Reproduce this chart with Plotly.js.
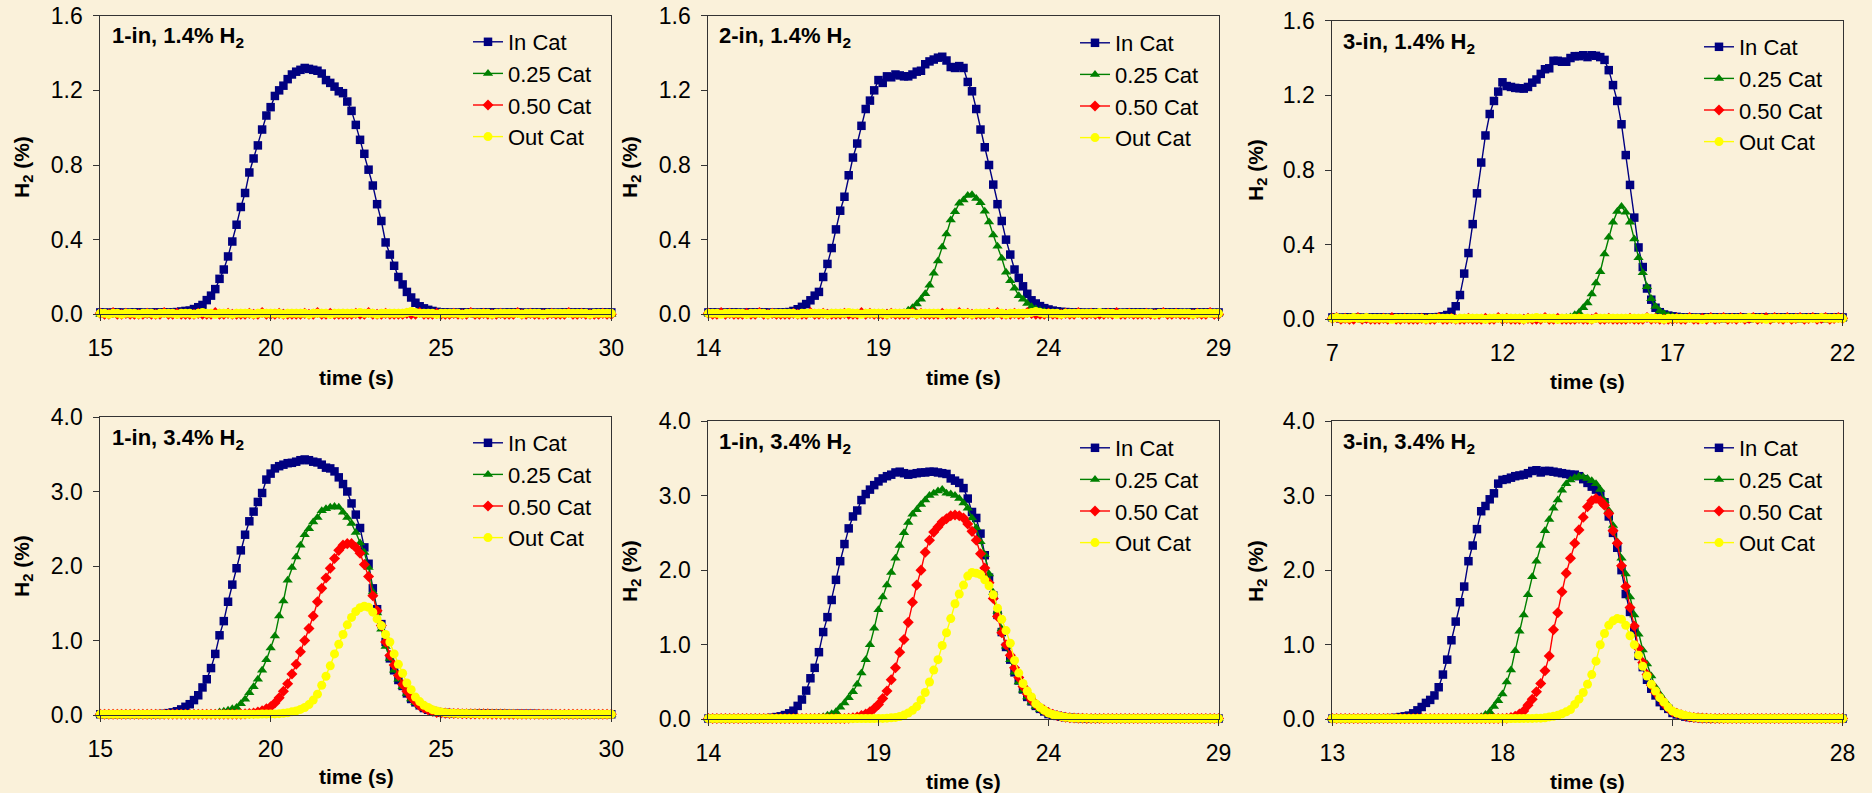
<!DOCTYPE html>
<html>
<head>
<meta charset="utf-8">
<script src="https://cdn.plot.ly/plotly-3.0.1.min.js"></script>
<style>
  html, body { margin: 0; padding: 0; background: #FAF1DA; }
  #chart { width: 1872px; height: 793px; }
</style>
</head>
<body>
<div id="chart"></div>
<script>
// H2 concentration traces sampled every 0.125 s, six catalyst runs.
const STEP = 0.125;
const seriesNames = ['In Cat', '0.25 Cat', '0.50 Cat', 'Out Cat'];
const panelTitles = ['1-in, 1.4% H<sub>2</sub>', '2-in, 1.4% H<sub>2</sub>', '3-in, 1.4% H<sub>2</sub>',
                     '1-in, 3.4% H<sub>2</sub>', '1-in, 3.4% H<sub>2</sub>', '3-in, 3.4% H<sub>2</sub>'];
const startTimes = [15, 14, 7, 15, 14, 13];
const xRanges = [[15, 30], [14, 29], [7, 22], [15, 30], [14, 29], [13, 28]];
const yRanges = [[0, 1.6], [0, 1.6], [0, 1.6], [0, 4], [0, 4], [0, 4]];
const yTickSteps = [0.4, 0.4, 0.4, 1, 1, 1];
const xTitle = 'time (s)';
const yTitle = 'H<sub>2</sub> (%)';

// ---- 1-in, 1.4% H2 (t from 15 s)
const p1In = [
0.01,0.01,0.005,0.01,0.01,0.01,0.005,0.01,0.01,0.01,0.01,0.005,0.01,0.01,0.01,0.01,0.01,
0.01,0.012,0.015,0.018,0.02,0.028,0.038,
0.05,0.076,0.1,0.135,0.19,0.24,0.31,0.39,
0.48,0.575,0.65,0.76,0.835,0.905,0.99,1.065,
1.11,1.17,1.2,1.225,1.26,1.285,1.3,1.31,
1.32,1.315,1.31,1.305,1.29,1.255,1.24,1.22,
1.195,1.185,1.14,1.09,1.015,0.935,0.86,0.775,
0.69,0.59,0.5,0.385,0.32,0.26,0.2,0.16,
0.12,0.09,0.062,0.043,0.032,0.024,0.018,0.013,
0.01,0.01,0.01,0.005,0.01,0.01,0.01,0.01,0.005,0.01,
0.01,0.01,0.01,0.01,0.005,0.01,0.01,0.01,0.01,0.01,
0.005,0.01,0.01,0.01,0.01,0.01,0.01,0.005,0.01,0.01,
0.01,0.01,0.01,0.01,0.01,0.005,0.01,0.01,0.01,0.01,
0.01];
const p1Q25 = [
0,0,0.005,0,0,0,0,0.005,0,0, 0,0,0,0,0.005,0,0,0,0,0, 0,0.005,0,0,0,0,0,0,0.005,0,
0,0,0,0,0,0.005,0,0,0,0, 0,0,0,0.005,0,0,0,0,0,0, 0.005,0,0,0,0,0,0,0.005,0,0,
0,0,0,0,0.005,0,0,0,0,0, 0,0,0.005,0,0,0,0,0,0,0.005, 0,0,0,0,0,0,0.005,0,0,0,
0,0.005,0,0,0,0,0,0,0,0.005, 0,0,0,0,0.005,0,0,0,0,0, 0,0,0,0.005,0,0,0,0,0,0, 0];
const p1Q50 = [
0.005,0,0,0.01,0,0,0.005,0,0,0, 0,0.005,0,0,0,0.01,0,0,0.005,0, 0,0,0,0.005,0,0,0,0.01,0,0,
0.005,0,0,0,0,0.005,0,0,0.01,0, 0,0,0.005,0,0,0,0,0,0.005,0, 0,0.01,0,0,0.005,0,0,0,0,0,
0.005,0,0,0.01,0,0,0,0.005,0,0, 0,0,0.005,0,0,0.01,0,0,0,0.005, 0,0,0,0.005,0,0,0,0.01,0,0,
0.005,0,0,0,0.005,0,0,0,0.01,0, 0,0.005,0,0,0,0,0.005,0,0,0, 0.01,0,0,0.005,0,0,0,0,0.005,0, 0];
const p1Out = [
0.005,0.005,0,0.005,0.005,0,0.005,0.005,0.005,0, 0.005,0.005,0.005,0,0.005,0.005,0.005,0.005,0,0.005,
0.005,0.005,0,0.005,0.01,0.005,0.005,0,0.005,0.005, 0.005,0,0.005,0.005,0.005,0.005,0,0.005,0.005,0.005,
0.005,0.005,0.005,0,0.005,0.005,0.005,0.005,0.005,0, 0.005,0.005,0.005,0.005,0,0.005,0.005,0.005,0.005,0.005,
0.005,0.01,0.005,0.005,0.005,0,0.005,0.005,0.005,0.005, 0.005,0.005,0.01,0.015,0.01,0.005,0.005,0.005,0.005,0,
0.005,0.005,0.005,0.005,0.005,0,0.005,0.005,0.005,0.005, 0.005,0.005,0,0.005,0.005,0.005,0.005,0.005,0.005,0,
0.005,0.005,0.005,0.005,0,0.005,0.005,0.005,0.005,0.005, 0.005,0.005,0.005,0.005,0.005,0,0.005,0.005,0.005,0.005,
0.005];

// ---- 2-in, 1.4% H2 (t from 14 s)
const p2In = [
0.01,0.01,0.01,0.005,0.01,0.01,0.01,0.01,0.005,0.01, 0.01,0.01,0.01,0.01,0.01,0.005,0.01,0.01,0.01,0.012,
0.018,0.027,0.04,0.055,
0.075,0.1,0.12,0.2,0.27,0.355,0.455,0.555,
0.63,0.745,0.84,0.915,1.01,1.1,1.145,1.2,
1.255,1.24,1.275,1.27,1.285,1.28,1.275,1.275,
1.285,1.3,1.305,1.34,1.355,1.365,1.375,1.38,
1.36,1.325,1.32,1.33,1.32,1.245,1.195,1.1,
0.99,0.895,0.8,0.695,0.59,0.5,0.4,0.32,
0.24,0.195,0.15,0.11,0.075,0.058,0.044,0.033,
0.026,0.02,0.016,
0.013,0.012,0.01,0.01,0.01,0.01,0.005,0.01,0.01,0.01, 0.01,0.01,0.01,0.01,0.005,0.01,0.01,0.01,0.01,0.01,
0.01,0.005,0.01,0.01,0.01,0.01,0.01,0.01,0.01,0.005, 0.01,0.01,0.01,0.01,0.01,0.01,0.005,0.01];
const p2Q25 = [
0.005,0,0.005,0.005,0,0.005,0.005,0.005,0,0.005, 0.005,0.005,0,0.005,0.005,0.005,0.005,0,0.005,0.005,
0.005,0,0.005,0.005,0.005,0.005,0,0.005,0.005,0.005, 0.005,0.005,0,0.005,0.005,0.005,0.005,0.005,0,0.005,
0.005,0.005,0.005,0,0.005,0.005,
0.008,0.022,
0.035,0.055,0.08,0.11,0.155,0.22,0.285,0.36,
0.43,0.505,0.55,0.595,0.612,0.636,0.64,0.62,
0.598,0.552,0.495,0.425,0.365,0.3,0.225,0.18,
0.14,0.1,0.08,0.058,0.041,0.028,0.02,0.015,
0.01,0.008,0.005,0.005,0.005,0,0.005,0.005,0.005,0.005, 0.005,0.005,0,0.005,0.005,0.005,0.005,0.005,0.005,0,
0.005,0.005,0.005,0.005,0,0.005,0.005,0.005,0.005,0.005, 0.005,0,0.005,0.005,0.005,0.005,0.005,0,0.005,0.005,
0.005];
const p2Q50 = [
0.005,0,0,0.01,0,0.005,0,0,0,0.005, 0,0,0.01,0,0,0.005,0,0,0,0, 0.005,0,0,0,0.01,0,0,0.005,0,0,
0,0,0.005,0,0,0,0.01,0,0.005,0, 0,0,0,0.005,0,0,0,0,0.01,0, 0.005,0,0,0,0,0.005,0,0,0,0.01,
0,0.005,0,0,0,0,0.005,0,0.01,0, 0,0,0.005,0,0,0.01,0.005,0,0,0, 0.005,0,0,0,0.005,0,0,0.01,0,0,
0.005,0,0,0,0.005,0,0.01,0,0,0.005, 0,0,0,0.005,0,0,0,0.01,0,0, 0.005,0,0,0,0,0.005,0,0,0.01,0, 0];
const p2Out = [
0.005,0.005,0.005,0,0.005,0.005,0.005,0.005,0.005,0, 0.005,0.005,0.005,0.005,0,0.005,0.005,0.005,0.005,0.005,
0.005,0,0.005,0.005,0.005,0.005,0.005,0.005,0,0.005, 0.005,0.005,0.005,0.01,0.005,0.005,0,0.005,0.005,0.005,
0.005,0.005,0,0.005,0.005,0.005,0.005,0.005,0.005,0, 0.005,0.005,0.005,0.005,0.005,0,0.005,0.005,0.005,0.005,
0.005,0.005,0,0.005,0.005,0.005,0.005,0.005,0.005,0.005, 0,0.005,0.005,0.005,0.005,0.005,0.01,0.015,0.01,0.005,
0.005,0.005,0.005,0,0.005,0.005,0.005,0.005,0.005,0.005, 0.005,0.005,0.01,0.005,0.005,0.005,0,0.005,0.005,0.005,
0.005,0.005,0.005,0.005,0.005,0,0.005,0.005,0.005,0.005, 0.005,0.005,0.005,0.005,0,0.005,0.005,0.005,0.005,0.005,
0.005];

// ---- 3-in, 1.4% H2 (t from 7 s)
const p3In = [
0.01,0.01,0.005,0.01,0.01,0.01,0.01,0.005,0.01,0.01, 0.01,0.01,0.01,0.005,0.01,0.01,0.01,0.01,0.01,0.005,
0.01,0.01,0.01,0.01,0.01,
0.012,0.016,0.023,0.04,0.07,0.13,0.245,
0.355,0.51,0.675,0.84,0.985,1.1,1.17,1.22,
1.27,1.25,1.245,1.24,1.238,1.236,1.245,1.268,
1.285,1.315,1.34,1.345,1.385,1.385,1.38,1.38,
1.4,1.41,1.41,1.415,1.405,1.415,1.412,1.405,
1.39,1.335,1.255,1.17,1.045,0.88,0.72,0.545,
0.385,0.28,0.165,0.105,0.062,0.038,0.026,0.02,
0.016,0.013,0.011,
0.01,0.01,0.01,0.005,0.01,0.01,0.01,0.01,0.01,0.005, 0.01,0.01,0.01,0.01,0.01,0.005,0.01,0.01,0.01,0.01,
0.005,0.01,0.01,0.01,0.01,0.01,0.01,0.005,0.01,0.01, 0.01,0.01,0.01,0.005,0.01,0.01,0.01,0.01];
const p3Q25 = [
0.005,0,0.005,0.005,0.005,0,0.005,0.005,0.005,0.005, 0,0.005,0.005,0.005,0.005,0.005,0,0.005,0.005,0.005,
0.005,0.005,0.005,0,0.005,0.005,0.005,0.005,0.005,0, 0.005,0.005,0.005,0.005,0,0.005,0.005,0.005,0.005,0.005,
0.005,0,0.005,0.005,0.005,0.005,0.005,0.005,0,0.005, 0.005,0.005,0.005,0.005,0.005,0.008,
0.012,0.024,0.036,0.062,0.088,0.135,0.195,0.255,
0.35,0.44,0.52,0.578,0.604,0.573,0.52,0.43,
0.33,0.25,0.175,0.11,0.068,0.045,0.03,0.021,
0.015,
0.01,0.008,0.005,0.005,0.005,0,0.005,0.005,0.005,0.005, 0.005,0.005,0,0.005,0.005,0.005,0.005,0.005,0.005,0,
0.005,0.005,0.005,0.005,0,0.005,0.005,0.005,0.005,0.005, 0.005,0.005,0.005,0,0.005,0.005,0.005,0.005,0.005,0.005];
const p3Q50 = [
0.005,0.01,0,0.005,0,0,0.01,0,0.005,0, 0,0,0.005,0,0.01,0,0,0.005,0,0, 0,0.005,0,0,0,0.01,0,0,0.005,0,
0,0,0.005,0,0,0,0.005,0,0,0.01, 0,0.005,0,0,0,0,0.005,0,0,0, 0.01,0,0,0.005,0,0,0,0,0.005,0,
0,0,0.01,0,0,0.005,0,0,0,0, 0.005,0,0,0,0.01,0,0.005,0,0,0, 0,0.005,0,0,0.01,0,0,0.005,0,0.01,
0,0.005,0.01,0,0.005,0,0.01,0,0.005,0.01, 0,0.005,0.01,0,0.01,0.005,0,0.01,0,0.005, 0.01,0,0.005,0.01,0,0.005,0.01,0,0.005,0.01, 0.005];
const p3Out = [
0.005,0.01,0.005,0.005,0.005,0.01,0.005,0.005,0.01,0.005, 0.005,0.005,0.005,0.005,0,0.005,0.005,0.005,0.005,0.005,
0.005,0.005,0,0.005,0.005,0.005,0.005,0.005,0.005,0, 0.005,0.005,0.005,0.005,0.005,0.005,0,0.005,0.005,0.005,
0.005,0.005,0.005,0.005,0.005,0,0.005,0.005,0.01,0.005, 0.005,0.005,0.005,0,0.005,0.005,0.005,0.005,0.005,0.005,
0.005,0,0.005,0.005,0.005,0.005,0.005,0.005,0.005,0.005, 0.005,0.005,0.005,0.005,0.01,0.005,0.005,0.005,0,0.005,
0.005,0.005,0.005,0.005,0.005,0.005,0.005,0,0.005,0.005, 0.005,0.005,0.005,0.005,0.005,0.005,0.005,0.005,0.01,0.005,
0.005,0.005,0,0.005,0.005,0.005,0.005,0.005,0.005,0.005, 0.005,0.005,0.005,0.005,0.005,0.01,0.005,0.005,0.005,0.005,
0.005];

// ---- 1-in, 3.4% H2 (t from 15 s)
const p4In = [
0.01,0.01,0.01,0.01,0.01,0.01,0.01,0.01,0.01,0.01, 0.01,0.01,0.01,0.01,0.012,0.015,
0.025,0.035,0.05,0.075,0.11,0.145,0.2,0.265,
0.37,0.48,0.63,0.82,1.07,1.26,1.52,1.75,
1.97,2.21,2.42,2.6,2.73,2.86,2.98,3.16,
3.24,3.31,3.34,3.36,3.38,3.385,3.4,3.42,
3.43,3.42,3.4,3.39,3.36,3.32,3.31,3.27,
3.19,3.1,3.0,2.84,2.69,2.51,2.25,2.03,
1.7,1.42,1.22,0.98,0.76,0.6,0.47,0.39,
0.29,0.215,0.17,0.13,0.093,0.07,0.053,0.04,
0.032,
0.028,0.025,0.022,0.02,0.02,0.02,0.02,0.02,0.02,0.02, 0.02,0.02,0.018,0.018,0.018,0.015,0.015,0.015,0.015,0.015,
0.015,0.015,0.012,0.012,0.012,0.012,0.01,0.01,0.01,0.01, 0.01,0.01,0.01,0.01,0.01,0.01,0.01,0.01,0.01,0.01];
const p4Q25 = [
0.01,0.01,0.01,0.01,0.01,0.01,0.01,0.01,0.01,0.01, 0.01,0.01,0.01,0.01,0.01,0.01,0.01,0.01,0.01,0.01,
0.01,0.01,0.01,0.01,0.01,0.012,0.015,
0.02,0.04,0.05,0.065,0.085,
0.1,0.15,0.21,0.3,0.38,0.48,0.6,0.74,
0.9,1.06,1.33,1.53,1.81,1.98,2.12,2.28,
2.42,2.5,2.59,2.65,2.74,2.77,2.79,2.8,
2.79,2.72,2.65,2.57,2.45,2.31,2.18,1.98,
1.65,1.37,1.15,0.92,0.76,0.6,0.48,0.38,
0.29,0.215,0.165,0.125,0.09,0.068,0.05,0.038,
0.03,
0.025,0.022,0.02,0.02,0.018,0.018,0.015,0.015,0.015,0.015, 0.012,0.012,0.012,0.012,0.01,0.01,0.01,0.01,0.01,0.01,
0.01,0.01,0.01,0.01,0.01,0.01,0.01,0.01,0.01,0.01, 0.01,0.01,0.01,0.01,0.01,0.01,0.01,0.01,0.01,0.01];
const p4Q50 = [
0.01,0.01,0.01,0.01,0.01,0.01,0.01,0.01,0.01,0.01, 0.01,0.01,0.01,0.01,0.01,0.01,0.01,0.01,0.01,0.01,
0.01,0.01,0.01,0.01,0.01,0.01,0.01,0.01,0.01,0.01, 0.01,0.01,0.01,0.012,0.015,0.02,
0.025,0.04,0.055,0.082,
0.11,0.16,0.23,0.32,0.42,0.55,0.68,0.85,
1.0,1.16,1.33,1.52,1.7,1.84,1.97,2.1,
2.21,2.28,2.3,2.3,2.25,2.17,2.02,1.86,
1.6,1.4,1.2,0.98,0.8,0.67,0.53,0.41,
0.32,0.24,0.18,0.125,0.095,0.067,0.05,0.035,
0.028,
0.025,0.022,0.02,0.02,0.018,0.018,0.015,0.015,0.015,0.015, 0.015,0.012,0.012,0.012,0.012,0.01,0.01,0.01,0.01,0.01,
0.01,0.01,0.01,0.01,0.01,0.01,0.01,0.01,0.01,0.01, 0.01,0.01,0.01,0.01,0.01,0.01,0.01,0.01,0.01,0.01];
const p4Out = [
0.01,0.01,0.01,0.01,0.01,0.01,0.01,0.01,0.01,0.01, 0.01,0.01,0.01,0.01,0.01,0.01,0.01,0.01,0.01,0.01,
0.01,0.01,0.01,0.01,0.01,0.01,0.01,0.01,0.01,0.01, 0.01,0.01,0.01,0.01,0.01,0.01,0.01,0.01,0.012,0.012,
0.015,0.015,0.018,0.022,
0.03,0.042,0.055,0.075,
0.1,0.14,0.2,0.28,0.4,0.52,0.66,0.82,
0.95,1.08,1.21,1.31,1.39,1.44,1.46,1.445,
1.38,1.29,1.2,1.08,0.98,0.82,0.68,0.56,
0.43,0.34,0.24,0.18,0.13,0.1,0.072,0.055,
0.04,0.03,
0.025,0.022,0.02,0.02,0.02,0.018,0.018,0.015,0.015,0.015, 0.015,0.015,0.012,0.012,0.012,0.012,0.01,0.01,0.01,0.01,
0.01,0.01,0.01,0.01,0.01,0.01,0.01,0.01,0.01,0.01, 0.01,0.01,0.01,0.01,0.01,0.01,0.01,0.01,0.01];

// ---- 1-in, 3.4% H2 (t from 14 s)
const p5In = [
0.01,0.01,0.01,0.01,0.01,0.01,0.01,0.01,0.01,0.01, 0.01,0.01,0.012,0.012,0.015,
0.02,
0.03,0.04,0.057,0.08,0.115,0.18,0.265,0.385,
0.55,0.69,0.9,1.17,1.37,1.6,1.87,2.12,
2.35,2.56,2.72,2.8,2.94,3.02,3.08,3.14,
3.19,3.23,3.26,3.28,3.31,3.32,3.3,3.28,
3.29,3.3,3.31,3.31,3.32,3.32,3.31,3.3,
3.29,3.23,3.2,3.17,3.1,2.96,2.78,2.7,
2.49,2.2,1.9,1.66,1.4,1.17,0.97,0.8,
0.63,0.52,0.4,0.3,0.24,0.18,0.14,0.105,
0.07,0.058,0.046,0.035,0.028,0.022,0.018,0.015,
0.015,0.012,0.012,0.012,0.01,0.01,0.01,0.01,0.01,0.01, 0.01,0.01,0.01,0.01,0.01,0.01,0.01,0.01,0.01,0.01,
0.01,0.01,0.01,0.01,0.01,0.01,0.01,0.01,0.01,0.01, 0.01,0.01,0.01];
const p5Q25 = [
0.01,0.01,0.01,0.01,0.01,0.01,0.01,0.01,0.01,0.01, 0.01,0.01,0.01,0.01,0.01,0.01,0.01,0.01,0.01,0.01,
0.01,0.01,0.01,0.012,0.015,0.018,
0.025,0.035,0.055,0.075,0.1,0.16,
0.22,0.29,0.37,0.47,0.62,0.8,1.0,1.22,
1.47,1.64,1.8,1.97,2.16,2.33,2.5,2.64,
2.75,2.81,2.88,2.94,3.0,3.03,3.06,3.08,
3.03,3.02,3.0,2.96,2.9,2.83,2.7,2.57,
2.38,2.21,1.95,1.7,1.45,1.21,0.98,0.8,
0.63,0.5,0.39,0.3,0.23,0.17,0.13,0.1,
0.07,0.05,0.04,0.03,0.022,0.017,0.014,0.012,
0.01,0.01,0.01,0.01,0.01,0.01,0.01,0.01,0.01,0.01, 0.01,0.01,0.01,0.01,0.01,0.01,0.01,0.01,0.01,0.01,
0.01,0.01,0.01,0.01,0.01,0.01,0.01,0.01,0.01,0.01, 0.01,0.01,0.01];
const p5Q50 = [
0.01,0.01,0.01,0.01,0.01,0.01,0.01,0.01,0.01,0.01, 0.01,0.01,0.01,0.01,0.01,0.01,0.01,0.01,0.01,0.01,
0.01,0.01,0.01,0.01,0.01,0.01,0.01,0.01,0.01,0.01, 0.01,0.012,0.012,0.015,
0.02,0.03,0.05,0.072,0.1,0.145,
0.2,0.28,0.38,0.53,0.69,0.9,1.07,1.3,
1.57,1.8,2.0,2.24,2.4,2.51,2.58,2.65,
2.69,2.73,2.74,2.73,2.7,2.62,2.52,2.4,
2.22,2.03,1.83,1.62,1.38,1.16,1.0,0.86,
0.69,0.56,0.44,0.34,0.26,0.2,0.155,0.12,
0.09,0.068,0.05,0.037,0.028,0.022,0.018,0.015,
0.015,0.012,0.012,0.01,0.01,0.01,0.01,0.01,0.01,0.01, 0.01,0.01,0.01,0.01,0.01,0.01,0.01,0.01,0.01,0.01,
0.01,0.01,0.01,0.01,0.01,0.01,0.01,0.01,0.01,0.01, 0.01,0.01,0.01];
const p5Out = [
0.01,0.01,0.01,0.01,0.01,0.01,0.01,0.01,0.01,0.01, 0.01,0.01,0.01,0.01,0.01,0.01,0.01,0.01,0.01,0.01,
0.01,0.01,0.01,0.01,0.01,0.01,0.01,0.01,0.01,0.01, 0.01,0.01,0.01,0.01,0.01,0.01,0.01,0.01,0.01,0.01,
0.012,0.012,
0.015,0.02,0.025,0.038,0.056,0.085,
0.12,0.17,0.26,0.36,0.5,0.66,0.8,0.99,
1.16,1.35,1.55,1.68,1.8,1.92,1.97,1.96,
1.94,1.87,1.79,1.67,1.49,1.34,1.19,1.02,
0.79,0.62,0.48,0.38,0.3,0.21,0.16,0.12,
0.085,0.065,0.05,0.037,0.028,0.022,0.018,0.015,
0.015,0.015,0.012,0.012,0.012,0.01,0.01,0.01,0.01,0.01, 0.01,0.01,0.01,0.01,0.01,0.01,0.01,0.01,0.01,0.01,
0.01,0.01,0.01,0.01,0.01,0.01,0.01,0.01,0.01,0.01, 0.01,0.01,0.01];

// ---- 3-in, 3.4% H2 (t from 13 s)
const p6In = [
0.01,0.01,0.01,0.01,0.01,0.01,0.01,0.01,0.01,0.01, 0.01,0.012,0.012,0.015,0.015,
0.02,
0.03,0.04,0.05,0.08,0.12,0.165,0.22,0.26,
0.32,0.43,0.6,0.8,1.06,1.31,1.57,1.78,
2.12,2.33,2.55,2.79,2.86,2.95,3.03,3.16,
3.21,3.22,3.24,3.26,3.27,3.28,3.3,3.33,
3.34,3.31,3.33,3.33,3.32,3.31,3.3,3.29,
3.28,3.28,3.26,3.22,3.17,3.12,3.08,3.02,
2.91,2.72,2.5,2.3,2.0,1.68,1.44,1.2,
0.85,0.7,0.53,0.41,0.32,0.23,0.18,0.14,
0.085,0.065,0.048,0.036,0.028,0.022,0.018,0.015,
0.015,0.012,0.012,0.01,0.01,0.01,0.01,0.01,0.01,0.01, 0.01,0.01,0.01,0.01,0.01,0.01,0.01,0.01,0.01,0.01,
0.01,0.01,0.01,0.01,0.01,0.01,0.01,0.01,0.01,0.01, 0.01,0.01,0.01];
const p6Q25 = [
0.01,0.01,0.01,0.01,0.01,0.01,0.01,0.01,0.01,0.01, 0.01,0.01,0.01,0.01,0.01,0.01,0.01,0.01,0.01,0.01,
0.01,0.01,0.01,0.01,0.01,0.01,0.01,0.01,0.01,0.01, 0.01,0.012,0.012,0.015,
0.02,0.035,0.065,0.1,0.17,0.25,
0.34,0.5,0.66,0.92,1.18,1.4,1.67,1.91,
2.12,2.33,2.53,2.68,2.83,2.94,3.07,3.16,
3.21,3.24,3.26,3.25,3.23,3.2,3.16,3.08,
2.93,2.8,2.6,2.38,2.16,1.95,1.64,1.4,
1.14,0.93,0.74,0.58,0.43,0.34,0.26,0.19,
0.11,0.09,0.067,0.05,0.036,0.028,0.022,0.018,
0.015,0.015,0.012,0.012,0.012,0.01,0.01,0.01,0.01,0.01, 0.01,0.01,0.01,0.01,0.01,0.01,0.01,0.01,0.01,0.01,
0.01,0.01,0.01,0.01,0.01,0.01,0.01,0.01,0.01,0.01, 0.01,0.01,0.01];
const p6Q50 = [
0.01,0.01,0.01,0.01,0.01,0.01,0.01,0.01,0.01,0.01, 0.01,0.01,0.01,0.01,0.01,0.01,0.01,0.01,0.01,0.01,
0.01,0.01,0.01,0.01,0.01,0.01,0.01,0.01,0.01,0.01, 0.01,0.01,0.01,0.01,0.01,0.01,0.01,0.01,0.01,0.012,
0.012,
0.015,0.025,0.04,0.07,0.11,0.19,0.27,
0.37,0.48,0.65,0.85,1.2,1.43,1.71,1.96,
2.16,2.36,2.54,2.71,2.85,2.93,2.96,2.93,
2.87,2.76,2.53,2.36,2.06,1.78,1.5,1.25,
0.95,0.76,0.6,0.46,0.36,0.29,0.21,0.15,
0.1,0.08,0.06,0.045,0.032,0.025,0.02,0.016,
0.015,0.012,0.012,0.01,0.01,0.01,0.01,0.01,0.01,0.01, 0.01,0.01,0.01,0.01,0.01,0.01,0.01,0.01,0.01,0.01,
0.01,0.01,0.01,0.01,0.01,0.01,0.01,0.01,0.01,0.01, 0.01,0.01,0.01];
const p6Out = [
0.01,0.01,0.01,0.01,0.01,0.01,0.01,0.01,0.01,0.01, 0.01,0.01,0.01,0.01,0.01,0.01,0.01,0.01,0.01,0.01,
0.01,0.01,0.01,0.01,0.01,0.01,0.01,0.01,0.01,0.01, 0.01,0.01,0.01,0.01,0.01,0.01,0.01,0.01,0.01,0.01,
0.01,0.01,0.01,0.01,0.01,0.012,0.012,0.012,0.015,0.015,
0.02,0.032,0.04,0.053,0.075,0.1,
0.13,0.2,0.27,0.36,0.47,0.6,0.78,1.0,
1.15,1.26,1.32,1.35,1.34,1.26,1.12,1.0,
0.86,0.71,0.58,0.47,0.38,0.29,0.23,0.16,
0.11,0.085,0.067,0.05,0.036,0.028,0.022,0.018,
0.015,0.015,0.012,0.012,0.01,0.01,0.01,0.01,0.01,0.01, 0.01,0.01,0.01,0.01,0.01,0.01,0.01,0.01,0.01,0.01,
0.01,0.01,0.01,0.01,0.01,0.01,0.01,0.01,0.01,0.01, 0.01,0.01,0.01];

const panelSeries = [
  [p1In, p1Q25, p1Q50, p1Out],
  [p2In, p2Q25, p2Q50, p2Out],
  [p3In, p3Q25, p3Q50, p3Out],
  [p4In, p4Q25, p4Q50, p4Out],
  [p5In, p5Q25, p5Q50, p5Out],
  [p6In, p6Q25, p6Q50, p6Out]
];

// ---- styling
const W = 1872, H = 793;
const px = v => v / W;
const py = v => 1 - v / H;
const colors = ['#000080', '#008000', '#FF0000', '#FFFF00'];
const symbols = ['square', 'triangle-up', 'diamond', 'circle'];
const sizes = [8.5, 9, 8.5, 9];
const sans = '"Liberation Sans", Arial, sans-serif';

// plot-area boxes in pixels: [left, right, top, bottom]
const boxes = [
  [100.3, 611.3, 15.7, 314.3], [708.4, 1218.6, 15.7, 314.3], [1332.4, 1842.6, 20.7, 319.3],
  [100.3, 611.3, 417, 715], [708.4, 1218.6, 421, 719.3], [1332.4, 1842.6, 421, 719.3]
];
// legend text left edge and first row centre, pixels
const legendPos = [[510, 38], [1117, 39], [1741, 43], [510, 439], [1117, 444], [1741, 444]];
// panel label left/centre, x title centre, y title centre
const labelPos = [[110, 37], [717, 37], [1341, 43], [110, 439], [717, 443], [1341, 443]];
const xTitlePos = [[356, 377], [963.5, 377], [1587.5, 381.5], [356, 776], [963.5, 781], [1587.5, 781]];
const yTitlePos = [[23, 167], [631, 167], [1257, 170], [23, 566], [631, 571], [1257, 571]];

const traces = [];
const layout = {
  width: W, height: H,
  margin: {l: 0, r: 0, t: 0, b: 0},
  paper_bgcolor: '#FAF1DA',
  plot_bgcolor: 'rgba(0,0,0,0)',
  showlegend: true,
  annotations: []
};

panelSeries.forEach((group, p) => {
  const n = p + 1;
  const xa = n === 1 ? 'x' : 'x' + n;
  const ya = n === 1 ? 'y' : 'y' + n;
  const leg = n === 1 ? 'legend' : 'legend' + n;
  group.forEach((vals, s) => {
    traces.push({
      type: 'scatter', mode: 'lines+markers',
      name: seriesNames[s],
      x: vals.map((_, i) => startTimes[p] + i * STEP),
      y: vals,
      xaxis: xa, yaxis: ya, legend: leg,
      cliponaxis: false,
      line: {color: colors[s], width: 1.4},
      marker: {symbol: symbols[s], size: sizes[s], color: colors[s], line: {width: 0}},
      hoverinfo: 'x+y'
    });
  });

  const b = boxes[p];
  const axisCommon = {
    showgrid: false, zeroline: false, showline: true, mirror: true,
    linecolor: '#333333', linewidth: 1,
    ticks: 'outside', ticklen: 6, tickwidth: 1, tickcolor: '#333333',
    tickfont: {family: sans, size: 23, color: '#000'}
  };
  layout['xaxis' + (n === 1 ? '' : n)] = Object.assign({}, axisCommon, {
    domain: [px(b[0]), px(b[1])], anchor: ya,
    range: xRanges[p], tick0: xRanges[p][0], dtick: 5,
    ticklabelstandoff: 7
  });
  layout['yaxis' + (n === 1 ? '' : n)] = Object.assign({}, axisCommon, {
    domain: [py(b[3]), py(b[2])], anchor: xa,
    range: yRanges[p], tick0: 0, dtick: yTickSteps[p], tickformat: '.1f',
    ticklabelstandoff: 6
  });

  const lp = legendPos[p];
  layout[leg] = {
    x: px(lp[0] - 42), y: py(lp[1] - 17), xanchor: 'left', yanchor: 'top',
    bgcolor: 'rgba(0,0,0,0)', borderwidth: 0,
    font: {family: sans, size: 22, color: '#000'},
    itemwidth: 30, tracegroupgap: 0
  };

  layout.annotations.push({
    xref: 'paper', yref: 'paper', x: px(labelPos[p][0]), y: py(labelPos[p][1]),
    xanchor: 'left', yanchor: 'middle', showarrow: false,
    text: '<b>' + panelTitles[p] + '</b>',
    font: {family: sans, size: 22, color: '#000'}
  });
  layout.annotations.push({
    xref: 'paper', yref: 'paper', x: px(xTitlePos[p][0]), y: py(xTitlePos[p][1]),
    xanchor: 'center', yanchor: 'middle', showarrow: false,
    text: '<b>' + xTitle + '</b>',
    font: {family: sans, size: 21, color: '#000'}
  });
  layout.annotations.push({
    xref: 'paper', yref: 'paper', x: px(yTitlePos[p][0]), y: py(yTitlePos[p][1]),
    xanchor: 'center', yanchor: 'middle', showarrow: false, textangle: -90,
    text: '<b>' + yTitle + '</b>',
    font: {family: sans, size: 21, color: '#000'}
  });
});

Plotly.newPlot('chart', traces, layout, {displayModeBar: false, staticPlot: true});
</script>
</body>
</html>
